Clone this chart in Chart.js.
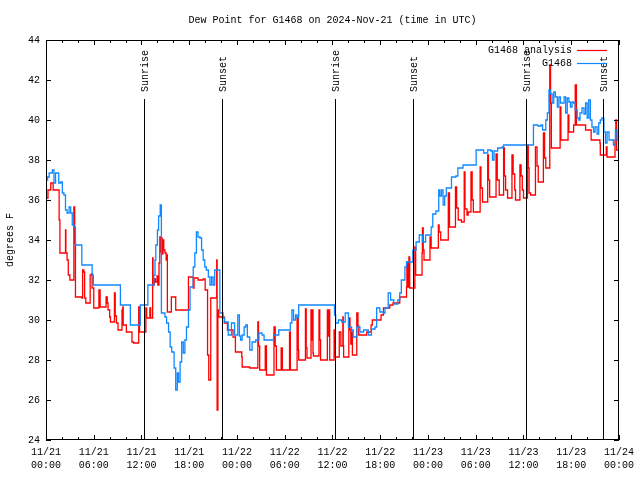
<!DOCTYPE html>
<html><head><meta charset="utf-8">
<script src="https://cdn.jsdelivr.net/npm/chart.js@4/dist/chart.umd.min.js"></script>
<style>html,body{margin:0;padding:0;background:#fff}</style>
</head><body>
<canvas id="c" width="640" height="480"></canvas>
<script>
const chartTitle = "Dew Point for G1468 on 2024-Nov-21 (time in UTC)";
const seriesNames = ["G1468 analysis", "G1468"];
const xTickLabels = [["11/21","00:00"],["11/21","06:00"],["11/21","12:00"],["11/21","18:00"],
  ["11/22","00:00"],["11/22","06:00"],["11/22","12:00"],["11/22","18:00"],
  ["11/23","00:00"],["11/23","06:00"],["11/23","12:00"],["11/23","18:00"],["11/24","00:00"]];
const sunriseHours = [12.27, 36.27, 60.28];
const sunsetHours = [22.13, 46.1, 70.02];

// G1468 observations (hours since 11/21 00:00 UTC, deg F)
const obsHours = [0.0,0.2,0.4,0.8,1.0,1.2,1.6,1.85,2.05,2.25,2.45,2.65,2.9,3.1,3.3,3.5,3.7,4.5,5.8,5.95,
 9.35,10.6,11.85,12.8,13.55,13.7,13.8,14.0,14.15,14.35,14.5,14.95,15.15,15.4,15.6,15.8,16.1,16.3,16.5,16.65,
 16.85,17.05,17.25,17.45,17.65,17.9,18.1,18.5,18.7,18.9,19.1,19.35,19.55,19.75,19.95,20.15,20.4,20.6,20.8,21.0,
 21.2,21.85,22.25,22.45,22.9,23.3,23.7,24.1,24.3,24.45,24.65,24.9,25.1,25.3,25.6,25.9,26.35,26.75,27.15,27.4,
 28.6,29.25,30.7,30.9,31.1,31.35,31.55,31.75,36.25,36.4,36.75,37.15,37.6,38.0,38.4,38.6,39.05,39.45,39.9,40.5,
 40.9,41.35,41.55,41.95,42.4,42.6,43.0,43.3,43.7,44.2,44.45,44.65,45.1,45.3,46.1,46.5,46.9,47.3,47.7,48.4,
 48.6,49.0,49.35,49.5,49.7,49.9,50.1,50.3,50.95,51.5,51.75,52.4,54.05,55.0,55.5,55.9,56.1,56.3,56.75,57.3,
 57.5,61.25,61.8,62.2,62.4,62.8,63.0,63.2,63.4,63.6,63.8,64.0,64.25,64.45,64.65,65.1,65.3,65.5,65.7,65.9,
 66.1,66.3,66.5,66.75,66.95,67.1,67.35,67.6,67.8,68.0,68.2,68.4,68.6,68.8,69.0,69.25,69.45,69.65,69.85,70.1,
 70.3,70.5,70.75,71.1,71.3,71.55,71.75,72.0];
const obsValues = [37.0,37.15,37.35,37.5,36.85,37.35,36.85,36.9,36.35,36.25,35.5,35.35,35.65,35.35,34.75,34.65,33.75,32.75,32.25,31.75,
 30.75,29.75,30.75,31.75,32.25,33.0,33.75,34.5,35.2,35.75,30.35,30.15,29.85,29.4,28.65,28.4,27.6,26.5,27.35,26.9,
 27.9,28.9,28.35,29.0,29.65,30.5,31.65,32.65,33.35,34.4,34.15,34.1,33.5,33.0,32.65,32.5,32.15,31.75,32.15,31.75,
 32.5,30.35,30.1,29.9,29.25,29.85,29.25,30.25,29.2,29.0,29.25,29.65,29.75,29.15,28.5,28.9,29.0,29.35,29.25,29.0,
 29.25,29.5,29.85,30.5,30.0,30.25,30.1,30.75,30.25,29.85,30.0,29.9,30.35,29.65,29.5,29.15,29.65,29.4,29.5,29.25,
 29.55,29.65,30.6,30.4,30.35,30.6,31.35,31.0,30.8,31.0,31.35,32.0,32.65,32.9,33.5,33.9,34.25,33.9,34.25,34.65,
 35.3,35.45,36.5,36.2,36.5,35.75,36.2,36.6,37.15,37.2,37.6,37.75,38.5,38.35,38.5,38.45,38.0,38.45,38.6,38.65,
 38.75,39.75,39.7,39.75,39.5,40.0,40.35,41.5,41.3,40.85,41.4,41.15,40.65,41.15,40.85,41.15,40.35,41.1,40.9,40.65,
 40.9,40.85,40.5,40.1,40.0,40.35,40.6,40.3,40.85,40.1,41.0,40.0,39.65,39.4,39.65,39.3,39.85,40.0,40.1,39.4,
 38.85,39.4,39.0,39.0,38.75,39.5,39.0,38.6];

// G1468 analysis
const anaHours = [0.0,0.05,0.25,0.6,0.9,1.65,1.75,2.45,2.5,2.65,2.8,3.0,3.4,3.5,3.6,3.7,4.5,4.6,4.75,4.85,
 5.0,5.5,5.55,5.7,5.8,6.0,6.6,6.65,6.8,7.5,7.55,7.7,7.8,8.0,8.1,8.55,8.6,8.7,8.85,9.05,
 9.45,9.55,9.65,9.7,10.0,10.1,10.75,10.8,11.0,11.5,11.65,11.75,12.5,12.55,12.65,13.0,13.05,13.15,13.4,13.45,
 13.6,13.75,13.95,14.05,14.2,14.3,14.4,14.5,14.6,14.7,14.8,14.95,15.1,15.2,15.25,15.7,15.75,16.25,16.3,17.8,
 17.9,18.4,18.5,18.6,19.0,19.1,19.5,19.75,20.0,20.25,20.3,20.45,20.7,21.4,21.45,21.5,21.6,21.7,22.4,22.8,
 23.5,23.8,24.55,24.6,24.65,25.6,26.6,26.62,26.7,26.85,27.5,27.55,27.7,28.6,28.65,28.8,28.95,29.5,29.55,29.7,
 30.55,30.6,30.7,31.5,31.55,31.7,31.75,32.55,32.6,32.7,32.8,33.25,33.3,33.4,33.45,33.55,33.6,34.2,34.3,34.4,
 34.5,35.3,35.35,35.45,35.5,35.65,36.1,36.2,36.3,36.8,36.85,37.05,37.3,37.35,37.4,38.0,38.05,38.2,38.3,38.35,
 38.5,39.0,39.05,39.2,39.3,40.0,40.3,40.85,41.0,41.8,42.1,42.4,43.2,43.6,44.45,45.25,45.3,45.35,45.45,45.6,
 45.7,46.35,46.45,47.25,47.3,47.4,47.5,48.25,48.4,49.3,49.4,49.6,50.55,50.7,51.45,51.6,51.8,52.2,52.55,52.65,
 52.9,53.05,53.4,53.55,53.7,54.55,54.65,54.85,55.5,55.6,55.75,56.55,56.7,56.95,57.5,57.6,57.75,58.0,58.55,58.7,
 58.9,59.0,59.55,59.7,59.85,60.0,60.5,60.6,60.7,60.9,61.5,61.7,61.85,62.5,62.65,62.8,63.3,63.4,63.5,64.6,
 64.7,65.6,65.7,66.3,66.5,66.65,67.8,68.5,69.6,69.65,70.4,70.5,71.5,71.6,71.7,72.0];
const anaValues = [38.2,36.1,36.5,36.85,36.5,35.0,33.35,34.5,33.35,33.0,32.25,32.0,32.0,35.65,33.85,31.15,31.1,32.5,32.4,31.1,
 30.85,30.85,32.25,32.3,31.6,30.6,30.6,31.5,30.65,30.65,31.15,30.85,30.5,30.15,29.9,29.9,31.35,30.2,29.85,29.5,
 29.5,30.5,30.65,29.75,29.75,29.4,29.4,28.9,28.85,28.85,30.65,29.4,29.4,30.6,30.1,30.1,30.6,30.1,33.1,31.75,
 32.05,31.9,32.2,31.75,32.85,34.15,33.4,34.1,33.3,34.0,33.5,33.35,33.0,33.25,30.4,30.4,31.15,31.15,30.5,30.5,
 32.15,32.15,31.6,32.1,32.1,32.0,32.0,32.05,31.5,31.5,28.25,27.0,31.1,31.1,33.0,25.5,30.5,30.15,29.85,29.5,
 29.15,28.4,28.4,28.15,27.65,27.6,27.6,29.9,28.7,27.5,27.5,28.7,27.25,27.25,29.65,28.7,27.5,27.5,28.6,27.5,
 27.5,29.4,27.5,27.5,30.15,28.5,28.0,28.0,30.55,28.6,28.1,28.1,30.5,29.0,30.5,28.35,28.2,28.2,30.5,29.0,
 28.0,28.0,30.5,29.2,30.5,28.0,28.0,29.5,28.15,28.15,29.4,28.7,30.15,28.7,28.15,28.15,30.1,29.5,28.8,29.4,
 28.25,28.25,30.35,29.7,29.25,29.25,29.4,29.75,30.0,30.0,30.25,30.6,30.75,30.85,31.15,31.15,31.65,32.9,31.65,33.15,
 31.6,33.65,32.25,33.35,34.6,33.5,33.0,34.15,33.6,34.75,34.4,34.0,36.35,34.65,36.65,35.6,35.0,34.9,37.4,35.55,
 35.25,35.4,37.4,36.0,35.4,37.65,36.6,35.9,38.25,37.0,36.15,38.3,37.0,36.25,38.6,37.2,36.5,36.1,38.25,37.3,
 36.5,36.0,37.75,37.2,36.5,36.1,38.75,37.6,36.35,36.25,38.65,37.7,36.9,39.35,38.1,37.6,42.75,40.85,38.6,40.65,
 39.0,40.25,39.4,39.75,41.75,39.75,39.5,39.0,38.85,38.25,38.65,38.15,39.0,40.0,38.5,38.25];

const FONT = '"Liberation Mono", "DejaVu Sans Mono", monospace';
const RED = '#ff0000';
const BLUE = '#1188ff';

function toXY(hs, vs) { return hs.map((h, i) => ({x: h, y: vs[i]})); }

const overlay = {
  id: 'overlay',
  afterDatasetsDraw(chart) {
    const {ctx, chartArea: a, scales: {x, y}} = chart;
    ctx.save();
    ctx.strokeStyle = '#000';
    ctx.lineWidth = 1;
    // sunrise / sunset lines
    const sun = sunriseHours.map(h => [h, 'Sunrise']).concat(sunsetHours.map(h => [h, 'Sunset']));
    ctx.font = '10px ' + FONT;
    ctx.fillStyle = '#000';
    sun.forEach(([h, label]) => {
      const px = Math.round(x.getPixelForValue(h)) + 0.5;
      ctx.beginPath();
      ctx.moveTo(px, a.bottom);
      ctx.lineTo(px, a.top + 59);
      ctx.stroke();
      ctx.save();
      ctx.translate(px + 1, a.top + 52);
      ctx.rotate(-Math.PI / 2);
      ctx.textAlign = 'left';
      ctx.textBaseline = 'middle';
      ctx.fillText(label, 0, 0);
      ctx.restore();
    });
    // border
    ctx.strokeRect(a.left + 0.5, a.top + 0.5, a.right - a.left - 1, a.bottom - a.top - 1);
    // x ticks (major 6h, minor 2h) on bottom and top
    ctx.beginPath();
    for (let h = 0; h <= 72; h += 2) {
      const px = Math.round(x.getPixelForValue(h)) + 0.5;
      const len = (h % 6 === 0) ? 5 : 3;
      ctx.moveTo(px, a.bottom); ctx.lineTo(px, a.bottom - len);
      ctx.moveTo(px, a.top); ctx.lineTo(px, a.top + len);
    }
    for (let v = 24; v <= 44; v += 2) {
      const py = Math.round(y.getPixelForValue(v)) + 0.5;
      ctx.moveTo(a.left, py); ctx.lineTo(a.left + 5, py);
      ctx.moveTo(a.right, py); ctx.lineTo(a.right - 5, py);
    }
    ctx.stroke();
    // title
    ctx.textAlign = 'center';
    ctx.textBaseline = 'middle';
    ctx.fillText(chartTitle, (a.left + a.right) / 2, 20);
    // legend
    ctx.textAlign = 'right';
    const rows = [[seriesNames[0], RED], [seriesNames[1], BLUE]];
    rows.forEach(([name, col], i) => {
      const ty = a.top + 10 + i * 13;
      ctx.fillStyle = '#000';
      ctx.fillText(name, a.right - 47, ty);
      ctx.strokeStyle = col;
      ctx.lineWidth = 1.2;
      ctx.beginPath();
      ctx.moveTo(a.right - 42, ty + 0.5);
      ctx.lineTo(a.right - 12, ty + 0.5);
      ctx.stroke();
    });
    ctx.restore();
  }
};

new Chart(document.getElementById('c'), {
  type: 'line',
  data: {
    datasets: [
      {label: seriesNames[1], data: toXY(obsHours, obsValues), borderColor: BLUE, borderWidth: 1.3,
       pointRadius: 0, stepped: true, fill: false, order: 0},
      {label: seriesNames[0], data: toXY(anaHours, anaValues), borderColor: RED, borderWidth: 1.3,
       pointRadius: 0, stepped: true, fill: false, order: 1}
    ]
  },
  options: {
    responsive: false,
    animation: false,
    devicePixelRatio: 1,
    layout: {padding: {top: 40, right: 18, left: 0, bottom: 0}},
    plugins: {legend: {display: false}, tooltip: {enabled: false}, title: {display: false}},
    scales: {
      x: {
        type: 'linear', min: 0, max: 72,
        grid: {display: false, drawTicks: false},
        border: {display: false},
        ticks: {stepSize: 6, autoSkip: false, maxRotation: 0, padding: 6, color: '#000',
                font: {family: FONT, size: 10, lineHeight: 1.3},
                callback: (v) => xTickLabels[Math.round(v / 6)]},
        afterFit: (s) => { s.height = 40; }
      },
      y: {
        min: 24, max: 44,
        grid: {display: false, drawTicks: false},
        border: {display: false},
        ticks: {stepSize: 2, padding: 6, color: '#000', font: {family: FONT, size: 10}},
        title: {display: true, text: 'degrees F', color: '#000', font: {family: FONT, size: 10}, padding: {top: 4, bottom: 0}},
        afterFit: (s) => { s.width = 46; }
      }
    }
  },
  plugins: [overlay]
});
</script>
</body></html>
